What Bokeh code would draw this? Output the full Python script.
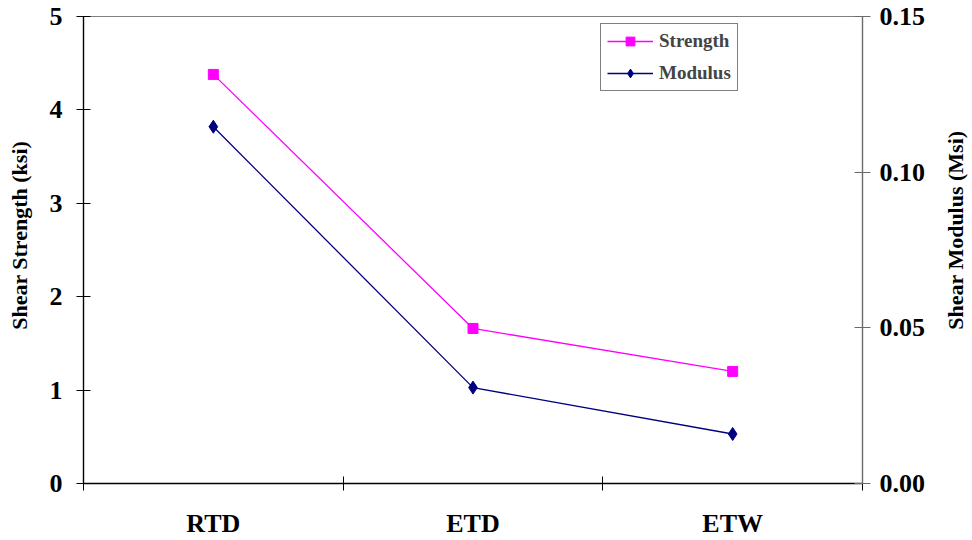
import math
from bokeh.plotting import figure
from bokeh.layouts import row
from bokeh.models import Range1d, LinearAxis, FixedTicker, Legend, LegendItem, NumeralTickFormatter
from bokeh.core.properties import value
from bokeh.embed import file_html
from bokeh.resources import INLINE

categories = ["RTD", "ETD", "ETW"]
strength_ksi = [4.38, 1.66, 1.20]
modulus_msi = [0.1146, 0.0308, 0.0159]
left_ticks = [0, 1, 2, 3, 4, 5]
right_ticks = [0.0, 0.05, 0.10, 0.15]
left_title = "Shear Strength (ksi)"
right_title = "Shear Modulus (Msi)"

FONT = "Liberation Serif"

xs = [i + 0.5 for i in range(len(categories))]
bounds = list(range(len(categories) + 1))

p = figure(width=896, height=540, output_backend="svg", toolbar_location=None,
           x_range=Range1d(0, len(categories)), y_range=Range1d(0, 5),
           min_border_left=47, min_border_right=70, min_border_top=16, min_border_bottom=56,
           x_axis_location=None, y_axis_location=None)
p.extra_y_ranges = {"mod": Range1d(0, 0.15)}
p.xgrid.visible = False
p.ygrid.visible = False
p.outline_line_color = "#808080"
p.outline_line_width = 1
p.background_fill_color = "white"
p.border_fill_color = "white"

def style(ax, color="black"):
    ax.axis_line_color = color
    ax.axis_line_width = 1.4
    ax.major_tick_line_color = color
    ax.minor_tick_line_color = color
    ax.major_tick_in = 7
    ax.major_tick_out = 7
    ax.minor_tick_in = 0
    ax.minor_tick_out = 0
    ax.major_label_text_font = FONT
    ax.major_label_text_font_style = "bold"
    ax.major_label_text_font_size = "26px"
    ax.major_label_text_color = "black"

xaxis = LinearAxis(ticker=FixedTicker(ticks=xs, minor_ticks=bounds),
                   major_label_overrides={x: c for x, c in zip(xs, categories)})
style(xaxis)
xaxis.major_tick_in = 0
xaxis.major_tick_out = 0
xaxis.minor_tick_in = 7
xaxis.minor_tick_out = 7
xaxis.major_label_standoff = 18
p.add_layout(xaxis, "below")

yl = LinearAxis(ticker=FixedTicker(ticks=left_ticks, minor_ticks=[]))
style(yl)
yl.major_label_standoff = 14
p.add_layout(yl, "left")

yr = LinearAxis(y_range_name="mod", ticker=FixedTicker(ticks=right_ticks, minor_ticks=[]),
                formatter=NumeralTickFormatter(format="0.00"))
style(yr, color="#6b6b6b")
yr.major_tick_in = 8
yr.major_tick_out = 8
yr.major_label_standoff = 9
p.add_layout(yr, "right")

l1 = p.line(xs, strength_ksi, line_color="#FF00FF", line_width=1.3)
m1 = p.scatter(xs, strength_ksi, marker="square", size=10, fill_color="#FF00FF", line_color="#FF00FF")
l2 = p.line(xs, modulus_msi, y_range_name="mod", line_color="#000080", line_width=1.3)
m2 = p.scatter(xs, modulus_msi, y_range_name="mod", marker="diamond", size=13,
               fill_color="#000080", line_color="#000080")

legend = Legend(items=[LegendItem(label="Strength", renderers=[l1, m1]),
                       LegendItem(label="Modulus", renderers=[l2, m2])],
                location=(517, 392))
legend.label_text_font = FONT
legend.label_text_font_style = "bold"
legend.label_text_font_size = "19px"
legend.border_line_color = "black"
legend.border_line_width = 1
legend.background_fill_color = "white"
legend.background_fill_alpha = 1
legend.glyph_width = 46
legend.glyph_height = 22
legend.label_height = 22
legend.spacing = 10
legend.padding = 6
legend.margin = 0
legend.label_standoff = 6
p.add_layout(legend, "center")

def title_strip(width, text, x, y):
    s = figure(width=width, height=540, output_backend="svg", toolbar_location=None,
               x_range=Range1d(0, width), y_range=Range1d(0, 540),
               min_border_left=0, min_border_right=0, min_border_top=0, min_border_bottom=0,
               x_axis_location=None, y_axis_location=None)
    s.xgrid.visible = False
    s.ygrid.visible = False
    s.outline_line_color = None
    s.border_fill_color = "white"
    s.text(x=[x], y=[y], text=[text], angle=math.pi / 2,
           text_align="center", text_baseline="middle",
           text_font=value(FONT), text_font_style="bold", text_font_size="22px",
           text_color="black")
    return s

left_strip = title_strip(36, left_title, 19, 287)
right_strip = title_strip(40, right_title, 23, 293)

layout = row(left_strip, p, right_strip, spacing=0)
open("out.html", "w").write(file_html(layout, INLINE))
